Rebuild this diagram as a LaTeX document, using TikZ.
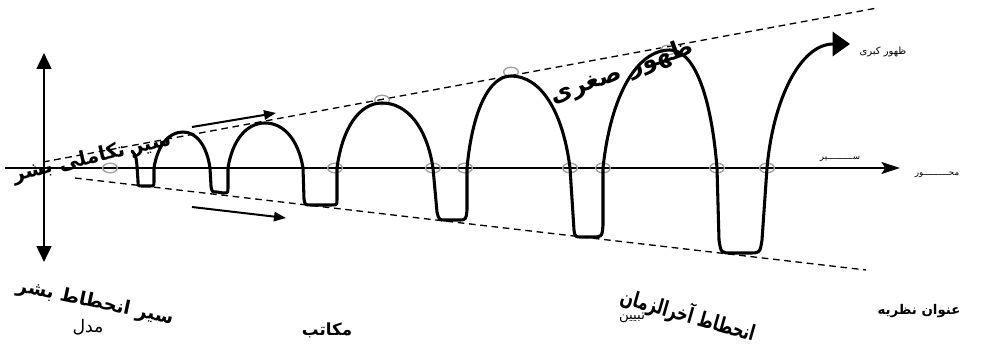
\documentclass[tikz,border=0pt]{standalone}
\usepackage{fontspec}
\usepackage{tikz}
\usetikzlibrary{arrows.meta,positioning}
\TeXXeTstate=1
\newfontfamily\arabicfont[Script=Arabic]{DejaVu Sans}
\definecolor{halo}{HTML}{A0A0A0}
\tikzset{
  wave/.style={line width=2.3pt, line join=round, line cap=round},
  guide/.style={line width=1pt, dash pattern=on 5pt off 3.5pt},
  ar/.style={-{Triangle[length=9pt,width=7pt]}, line width=1.5pt},
  ring/.style={draw=halo, line width=1pt},
  tag/.style={font=\arabicfont\bfseries\fontsize{15}{17}\selectfont, inner sep=0pt},
  lbl/.style={font=\arabicfont\fontsize{12}{14}\selectfont, inner sep=0pt},
  lblb/.style={lbl, font=\arabicfont\bfseries\fontsize{12}{14}\selectfont},
  wee/.style={font=\arabicfont\fontsize{6.5}{8}\selectfont, inner sep=0pt},
}
\begin{document}
\begin{tikzpicture}[x=0.75pt, y=-0.75pt]
  \useasboundingbox (0,0) rectangle (989,349);

  % axes
  \coordinate (ax0) at (5,168);
  \coordinate (ax1) at (900,168);
  \coordinate (vtop) at (44,53);
  \coordinate (vbot) at (44,262);
  \draw[line width=1.1pt, -{Stealth[length=14pt,width=9pt,inset=3pt]}] (ax0) -- (ax1);
  \draw[line width=2pt, {Triangle[length=12pt,width=11pt]}-{Triangle[length=12pt,width=11pt]}]
       (vbot) -- (vtop);

  % guide lines
  \coordinate (up0) at (43,162);
  \coordinate (up1) at (877,8);
  \coordinate (lo0) at (75,178);
  \coordinate (lo1) at (866,270);
  \draw[guide] (up0) -- (up1);
  \draw[guide] (lo0) -- (lo1);

  % gray rings
  \foreach \x/\y in {110/168, 335/168, 433/168, 465/168, 570/168, 603/168,
                     717/168, 767/168, 382/100, 511/72, 668/50}
    \draw[ring] (\x,\y) ellipse [x radius=5.5pt, y radius=3.6pt];

  % wave
  \coordinate (wend) at (850,44);
  \draw[wave, -{Triangle[length=13pt,width=18pt]}]
    (132,151) .. controls (136,156) .. (137,166) -- (138,181)
      .. controls (138,186) .. (142,186) -- (150,186) .. controls (154,186) .. (154,181) -- (154,168)
    % 1
    .. controls (157.5,145.7) and (168.5,132) .. (183,132)
    .. controls (196.5,132) and (206.8,145.7) .. (210,168)
    -- (211,186) .. controls (212,192) .. (217,192) -- (223,193)
      .. controls (228,193) .. (228,187) -- (228,168)
    % 2
    .. controls (232.4,140.1) and (246.5,123) .. (265,123)
    .. controls (284,123) and (298.4,140.1) .. (303,168)
    -- (304,199) .. controls (305,205) .. (311,205) -- (331,205)
      .. controls (337,205) .. (337,199) -- (337,168)
    % 3
    .. controls (342.4,127.7) and (359.5,103) .. (382,103)
    .. controls (407.5,103) and (426.9,127.7) .. (433,168)
    -- (437,212) .. controls (439,220) .. (446,220) -- (458,220)
      .. controls (466,220) .. (467,210) -- (467,168)
    % 4
    .. controls (472.3,111) and (489,76) .. (511,76)
    .. controls (540.5,76) and (562.9,111) .. (570,168)
    -- (574,230) .. controls (575,237) .. (582,237) -- (592,237)
      .. controls (602,237) .. (603,225) -- (603,168)
    % 5
    .. controls (610.8,94.8) and (637,50) .. (670,50)
    .. controls (694,50) and (711.1,94.8) .. (717,168)
    -- (719,240) .. controls (721,253) .. (732,253) -- (748,253)
      .. controls (760,253) .. (762,240) -- (767,168)
    % 6
    .. controls (773,100) and (800,44) .. (wend);

  % small direction arrows
  \coordinate (ua0) at (192,127);
  \coordinate (ua1) at (276,113);
  \coordinate (la0) at (192,207);
  \coordinate (la1) at (286,218);
  \draw[ar] (ua0) -- (ua1);
  \draw[ar] (la0) -- (la1);

  % labels
  \node[tag, rotate=13] (evol) at (92,158) {\beginR سیر تکاملی بشر\endR};
  \node[tag, rotate=20, font=\arabicfont\bfseries\fontsize{18}{20}\selectfont]
       (minor) at (622,72) {\beginR ظهور صغری\endR};
  \node[wee, font=\arabicfont\fontsize{7.5}{9}\selectfont] (major) at (883,52) {\beginR ظهور کبری\endR};
  \node[wee] (path) at (840,159) {\beginR ســــــــــیر\endR};
  \node[wee] (axis) at (937,175) {\beginR محــــــــــور\endR};

  \node[tag, rotate=-12, font=\arabicfont\bfseries\fontsize{14}{16}\selectfont]
       (decl) at (95,303) {\beginR سیر انحطاط بشر\endR};
  \node[lbl, font=\arabicfont\fontsize{13}{15}\selectfont] (model) at (88,327) {\beginR مدل\endR};
  \node[lblb, font=\arabicfont\bfseries\fontsize{12.5}{14}\selectfont] (school) at (327,330) {\beginR مکاتب\endR};
  \node[lbl, font=\arabicfont\fontsize{10}{12}\selectfont] (expl) at (632,318) {\beginR تبیین\endR};
  \node[tag, rotate=-16, xscale=0.72, font=\arabicfont\bfseries\fontsize{16}{18}\selectfont]
       (end) at (688,315) {\beginR انحطاط آخرالزمان\endR};
  \node[lblb, font=\arabicfont\bfseries\fontsize{10}{12}\selectfont] (title) at (919,311) {\beginR عنوان نظریه\endR};
\end{tikzpicture}
\end{document}
